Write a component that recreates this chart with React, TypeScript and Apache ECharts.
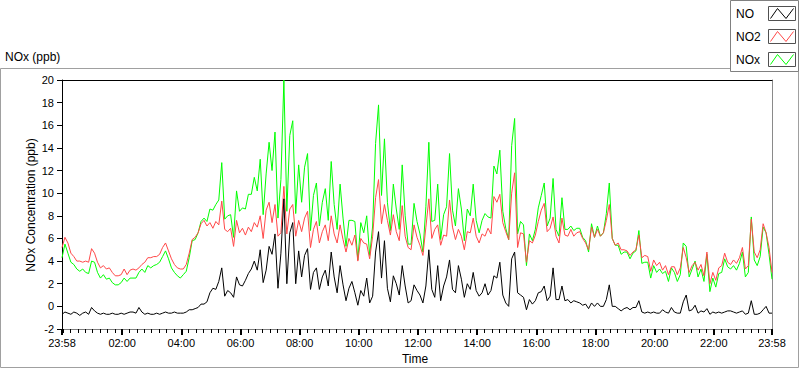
import { useEffect, useRef } from 'react';
import * as echarts from 'echarts';

// Sampling step of the series, in minutes from 23:58
const STEP_MIN = 6;

const SERIES_NAMES = ['NO', 'NO2', 'NOx'];

// NO (ppb)
const NO = [
  -0.7, -0.5, -0.6, -0.7, -0.5, -0.6, -0.8, -0.6, -0.5, -0.7,
  -0.1, -0.4, -0.6, -0.7, -0.6, -0.7, -0.7, -0.6, -0.7, -0.7,
  -0.6, -0.7, -0.6, -0.5, -0.5, -0.6, -0.1, -0.5, -0.7, -0.6,
  -0.7, -0.7, -0.6, -0.7, -0.6, -0.5, -0.6, -0.6, -0.5, -0.6,
  -0.6, -0.6, -0.5, -0.3, -0.3, -0.2, -0.1, 0.2, 0.2, 0.4,
  1.2, 1.6, 1.5, 2.2, 3.4, 0.9, 1.4, 1.2, 0.8, 2.6,
  1.9, 1.8, 2.3, 2.9, 3.3, 4.0, 3.2, 5.0, 2.1, 3.2,
  5.3, 4.6, 6.4, 1.6, 4.7, 9.5, 2.0, 6.5, 7.4, 2.0,
  4.9, 2.6, 4.5, 5.1, 1.5, 3.0, 3.4, 1.5, 2.6, 3.2,
  1.8, 4.8, 2.6, 1.2, 3.6, 1.9, 0.5, 1.6, 2.2, 1.2,
  0.1, 1.4, 0.9, 2.5, 0.3, 0.9, 4.8, 6.6, 2.5, 5.8,
  1.6, 0.4, 2.7, 2.0, 1.0, 3.6, 1.8, 0.3, 0.5, 1.9,
  1.4, 1.0, 0.3, 1.8, 5.0, 1.5, 0.8, 3.6, 0.5, 1.8,
  2.6, 4.1, 1.5, 1.2, 3.6, 2.4, 0.8, 2.0, 1.5, 3.0,
  1.4, 0.9, 1.2, 2.0, 1.0, 1.4, 2.7, 2.5, 3.9, 1.0,
  0.3, 0.0, 4.2, 4.8, 1.2, 1.0, 0.8, -0.3, 0.6, 0.2,
  0.5, 1.2, 1.3, 1.8, 0.5, 0.9, 3.4, 0.6, 0.6, 1.8,
  0.5, 0.6, 0.3, 0.5, 0.4, 0.3, 0.1, 0.2, -0.2, 0.3,
  0.0, 0.3, 0.0, 0.0, 0.6, 1.9, 0.0, 0.0, -0.2, -0.4,
  -0.2, -0.1, -0.3, -0.1, -0.1, 0.5, -0.5, -0.6, -0.5, -0.6,
  -0.5, -0.6, -0.6, -0.3, -0.5, -0.6, -0.1, -0.5, -0.6, -0.6,
  0.4, 1.0, -0.4, -0.3, 0.1, -0.6, -0.4, -0.5, -0.2, -0.7,
  -0.5, -0.6, -0.5, -0.6, -0.5, -0.4, -0.4, -0.5, -0.6, -0.5,
  -0.4, -0.7, -0.6, 0.5, -0.7, -0.7, -0.6, -0.3, 0.0, -0.6,
  -0.6,
];

// NO2 (ppb)
const NO2 = [
  5.2, 6.1, 5.6, 4.7, 4.4, 4.0, 4.0, 3.9, 4.0, 3.9,
  5.1, 4.7, 3.9, 3.4, 3.6, 3.3, 3.4, 3.0, 2.7, 2.7,
  2.8, 3.3, 2.8, 3.2, 3.3, 3.2, 3.4, 3.7, 3.9, 4.3,
  4.3, 4.4, 4.4, 4.6, 5.2, 5.6, 4.9, 4.2, 3.7, 3.4,
  3.3, 3.3, 3.7, 4.7, 5.9, 6.1, 6.5, 7.3, 7.6, 7.1,
  7.4, 6.9, 7.5, 7.2, 9.3, 6.8, 6.6, 6.9, 5.3, 7.6,
  6.5, 6.9, 6.3, 7.0, 6.6, 7.4, 7.0, 8.0, 6.0, 8.5,
  9.2, 7.4, 9.0, 6.2, 6.5, 10.6, 6.4, 8.6, 9.0, 6.2,
  7.6, 6.6, 7.8, 8.4, 5.2, 6.8, 7.5, 5.6, 6.6, 7.2,
  5.8, 8.0, 6.4, 5.6, 7.2, 5.9, 4.8, 6.0, 5.4, 6.3,
  4.0, 6.0, 5.6, 5.5, 4.2, 6.2, 9.6, 11.2, 7.3, 9.0,
  7.6, 6.3, 8.1, 6.6, 5.8, 8.9, 6.2, 5.2, 5.0, 7.2,
  6.1, 5.4, 4.5, 7.0, 9.5, 6.0, 6.8, 7.2, 5.4, 6.3,
  6.2, 9.4, 7.0, 5.9, 6.8, 6.2, 5.0, 6.6, 6.5, 7.8,
  6.2, 5.6, 6.4, 6.2, 6.9, 6.4, 9.7, 9.2, 9.9, 7.4,
  6.6, 5.9, 10.0, 11.8, 5.2, 6.5, 6.4, 3.9, 5.8, 5.6,
  6.3, 7.5, 8.5, 9.1, 6.6, 6.9, 7.9, 6.2, 5.6, 7.8,
  6.3, 6.2, 6.8, 6.2, 6.5, 6.6, 6.0, 5.6, 5.0, 7.0,
  6.1, 6.8, 6.2, 6.5, 7.6, 9.0, 6.0, 5.4, 5.6, 5.0,
  5.0, 4.9, 4.5, 4.8, 5.0, 6.3, 4.3, 4.5, 4.4, 3.1,
  4.1, 3.6, 3.9, 3.2, 3.6, 2.8, 3.5, 3.5, 2.8, 3.4,
  5.2, 4.3, 3.0, 3.6, 3.9, 3.2, 3.7, 2.7, 4.8, 2.0,
  3.0, 2.3, 3.4, 3.6, 4.7, 3.9, 3.7, 4.1, 3.8, 4.3,
  5.2, 3.3, 3.6, 7.7, 4.8, 4.3, 5.0, 7.3, 6.5, 5.2,
  3.0,
];

// NOx (ppb)
const NOX = [
  4.3, 5.5, 4.7, 3.9, 3.7, 3.3, 3.1, 3.3, 3.0, 2.9,
  4.0, 3.9, 3.0, 2.5, 2.8, 2.4, 2.5, 2.1, 1.9, 1.9,
  2.1, 2.5, 2.2, 2.5, 2.5, 2.5, 3.0, 3.3, 3.0, 3.6,
  3.4, 3.6, 3.7, 3.9, 4.4, 4.9, 4.2, 3.4, 3.0, 2.7,
  2.5, 2.8, 3.1, 4.3, 5.8, 5.9, 6.5, 7.5, 7.8, 7.5,
  8.6, 8.5, 9.0, 9.4, 12.7, 7.7, 8.0, 8.1, 6.1, 10.2,
  8.4, 8.7, 8.6, 9.9, 9.9, 11.4, 10.2, 13.0, 8.1, 11.7,
  14.5, 12.0, 15.4, 7.8, 11.2, 20.0, 8.4, 15.1, 16.4, 8.2,
  12.5, 9.2, 12.3, 13.5, 6.7, 9.8, 10.9, 7.1, 9.2, 10.4,
  7.6, 12.8, 9.0, 6.8, 10.8, 7.8, 5.3, 7.6, 7.6, 7.5,
  4.1, 7.4, 6.5, 8.0, 4.5, 7.1, 14.4, 17.8, 9.8, 14.8,
  9.2, 6.7, 10.8, 8.6, 6.8, 12.5, 8.0, 5.5, 5.5, 9.1,
  7.5, 6.4, 4.8, 8.8, 14.5, 7.5, 7.6, 10.8, 5.9, 8.1,
  8.8, 13.5, 8.5, 7.1, 10.4, 8.6, 5.8, 8.6, 8.0, 10.8,
  7.6, 6.5, 7.6, 8.2, 7.9, 7.8, 12.4, 11.7, 13.8, 8.4,
  6.9, 5.9, 14.2, 16.6, 6.4, 7.5, 7.2, 3.6, 6.4, 5.8,
  6.8, 8.7, 9.8, 10.9, 7.1, 7.8, 11.3, 6.8, 6.2, 9.6,
  6.8, 6.8, 7.1, 6.7, 6.9, 6.9, 6.1, 5.8, 4.8, 7.3,
  6.1, 7.1, 6.2, 6.5, 8.2, 10.9, 6.0, 5.4, 5.4, 4.6,
  4.8, 4.8, 4.2, 4.7, 4.9, 6.7, 3.8, 3.9, 3.9, 2.5,
  3.6, 3.0, 3.3, 2.9, 3.1, 2.2, 3.4, 3.0, 2.2, 2.8,
  5.6, 5.3, 2.6, 3.3, 4.0, 2.6, 3.3, 2.2, 4.6, 1.3,
  2.5, 1.7, 2.9, 3.0, 4.2, 3.5, 3.3, 3.6, 3.2, 3.8,
  4.8, 2.6, 3.0, 7.9, 4.1, 3.6, 4.4, 7.0, 6.5, 4.6,
  2.4,
];

// X axis: minutes elapsed since 23:58
const X_MAX_MIN = 1440;
const MAJOR_TICK_MIN = [0, 122, 242, 362, 482, 602, 722, 842, 962, 1082, 1202, 1322, 1440];
const TICK_LABELS = ['23:58', '02:00', '04:00', '06:00', '08:00', '10:00', '12:00', '14:00', '16:00', '18:00', '20:00', '22:00', '23:58'];
const MINOR_TICK_STEP = 15;
const MINOR_TICK_OFFSET = 2; // first quarter-hour (00:00) after 23:58

// Y axis
const Y_MIN = -2;
const Y_MAX = 20;
const Y_INTERVAL = 2;

const COLOR_NO = '#000000';
const COLOR_NO2 = '#ff4848';
const COLOR_NOX = '#00ff00';
const FONT = '"Liberation Sans", Arial, sans-serif';

const minorTicks: number[] = [];
for (let m = MINOR_TICK_OFFSET; m < X_MAX_MIN; m += MINOR_TICK_STEP) minorTicks.push(m);

const toPairs = (vals: number[]) => vals.map((v, i) => [i * STEP_MIN, v]);

function buildOption() {
  const grid = { left: 62, right: 28, top: 80, bottom: 40, containLabel: false };
  const hidden = {
    axisLine: { show: false },
    axisTick: { show: false },
    axisLabel: { show: false },
    splitLine: { show: false },
  };
  const lineSeries = (name: string, vals: number[], color: string) => ({
    name,
    type: 'line',
    xAxisIndex: 0,
    yAxisIndex: 0,
    data: toPairs(vals),
    showSymbol: false,
    symbol: 'none',
    silent: true,
    clip: true,
    lineStyle: { color, width: 1 },
    itemStyle: { color },
    emphasis: { disabled: true },
  });

  const legendColors = [COLOR_NO, COLOR_NO2, COLOR_NOX];
  const legendEls: any[] = [];
  SERIES_NAMES.forEach((n, k) => {
    const cy = 13.5 + 23 * k;
    legendEls.push({
      type: 'text',
      x: 736,
      y: cy,
      z: 20,
      style: { text: n, font: `12px ${FONT}`, fill: '#000', align: 'left', verticalAlign: 'middle', textAlign: 'left', textVerticalAlign: 'middle' },
    });
    legendEls.push({
      type: 'rect',
      z: 20,
      shape: { x: 768.5, y: cy - 7, width: 27, height: 14 },
      style: { fill: '#fff', stroke: '#505050', lineWidth: 1 },
    });
    legendEls.push({
      type: 'polyline',
      z: 21,
      shape: { points: [[770.5, cy + 5], [777.5, cy - 5], [786, cy + 5], [793.5, cy - 5]] },
      style: { stroke: legendColors[k], lineWidth: 1, fill: null },
    });
  });

  return {
    animation: false,
    backgroundColor: '#ffffff',
    textStyle: { fontFamily: FONT },
    grid: [grid, { ...grid }],
    xAxis: [
      {
        type: 'value', gridIndex: 0, min: 0, max: X_MAX_MIN, position: 'bottom',
        axisLine: { show: true, onZero: false, lineStyle: { color: '#7f7f7f', width: 1 } },
        axisTick: { show: true, customValues: minorTicks, length: 4, lineStyle: { color: '#000', width: 1 } },
        axisLabel: { show: false },
        splitLine: { show: false },
      },
      {
        type: 'value', gridIndex: 0, min: 0, max: X_MAX_MIN, position: 'top',
        axisLine: { show: true, onZero: false, lineStyle: { color: '#000', width: 1 } },
        axisTick: { show: false }, axisLabel: { show: false }, splitLine: { show: false },
      },
      {
        type: 'value', gridIndex: 1, min: 0, max: X_MAX_MIN, position: 'bottom',
        axisLine: { show: false, onZero: false },
        axisTick: { show: true, customValues: MAJOR_TICK_MIN, length: 6, lineStyle: { color: '#000', width: 2 } },
        axisLabel: {
          show: true,
          customValues: MAJOR_TICK_MIN,
          formatter: (v: number) => {
            const k = MAJOR_TICK_MIN.indexOf(Math.round(v));
            return k >= 0 ? TICK_LABELS[k] : '';
          },
          fontSize: 11, color: '#000', fontFamily: FONT, margin: 8,
        },
        splitLine: { show: false },
      },
    ],
    yAxis: [
      {
        type: 'value', gridIndex: 0, min: Y_MIN, max: Y_MAX, interval: Y_INTERVAL, position: 'left',
        axisLine: { show: true, onZero: false, lineStyle: { color: '#000', width: 1 } },
        axisTick: { show: true, length: 5, lineStyle: { color: '#000', width: 1 } },
        axisLabel: { show: true, fontSize: 11, color: '#000', fontFamily: FONT, margin: 8 },
        splitLine: { show: false },
      },
      {
        type: 'value', gridIndex: 0, min: Y_MIN, max: Y_MAX, interval: Y_INTERVAL, position: 'right',
        axisLine: { show: true, onZero: false, lineStyle: { color: '#8a8a8a', width: 1 } },
        axisTick: { show: false }, axisLabel: { show: false }, splitLine: { show: false },
      },
      { type: 'value', gridIndex: 1, min: Y_MIN, max: Y_MAX, show: false, ...hidden },
    ],
    series: [
      lineSeries(SERIES_NAMES[2], NOX, COLOR_NOX),
      lineSeries(SERIES_NAMES[1], NO2, COLOR_NO2),
      lineSeries(SERIES_NAMES[0], NO, COLOR_NO),
    ],
    graphic: {
      elements: [
        {
          type: 'rect', z: 1, silent: true,
          shape: { x: 0.5, y: 68.5, width: 798, height: 299 },
          style: { fill: null, stroke: '#a0a0a0', lineWidth: 1 },
        },
        {
          type: 'text', x: 5, y: 57, z: 5,
          style: { text: 'NOx (ppb)', font: `12px ${FONT}`, fill: '#000', align: 'left', verticalAlign: 'middle', textAlign: 'left', textVerticalAlign: 'middle' },
        },
        {
          type: 'text', x: 31, y: 205, rotation: Math.PI / 2, z: 5,
          style: { text: 'NOx Concentration (ppb)', font: `12px ${FONT}`, fill: '#000', align: 'center', verticalAlign: 'middle', textAlign: 'center', textVerticalAlign: 'middle' },
        },
        {
          type: 'text', x: 415, y: 359, z: 5,
          style: { text: 'Time', font: `12px ${FONT}`, fill: '#000', align: 'center', verticalAlign: 'middle', textAlign: 'center', textVerticalAlign: 'middle' },
        },
        {
          type: 'rect', z: 15, silent: true,
          shape: { x: 730.5, y: 0.5, width: 68, height: 71 },
          style: { fill: '#fff', stroke: '#808080', lineWidth: 1 },
        },
        ...legendEls,
      ],
    },
  };
}

export default function App() {
  const ref = useRef<HTMLDivElement>(null);
  useEffect(() => {
    document.body.style.margin = '0';
    if (!ref.current) return;
    const chart = echarts.init(ref.current, null, { renderer: 'svg' });
    chart.setOption(buildOption() as any);
    return () => chart.dispose();
  }, []);
  return <div ref={ref} style={{ width: 800, height: 369 }} />;
}
